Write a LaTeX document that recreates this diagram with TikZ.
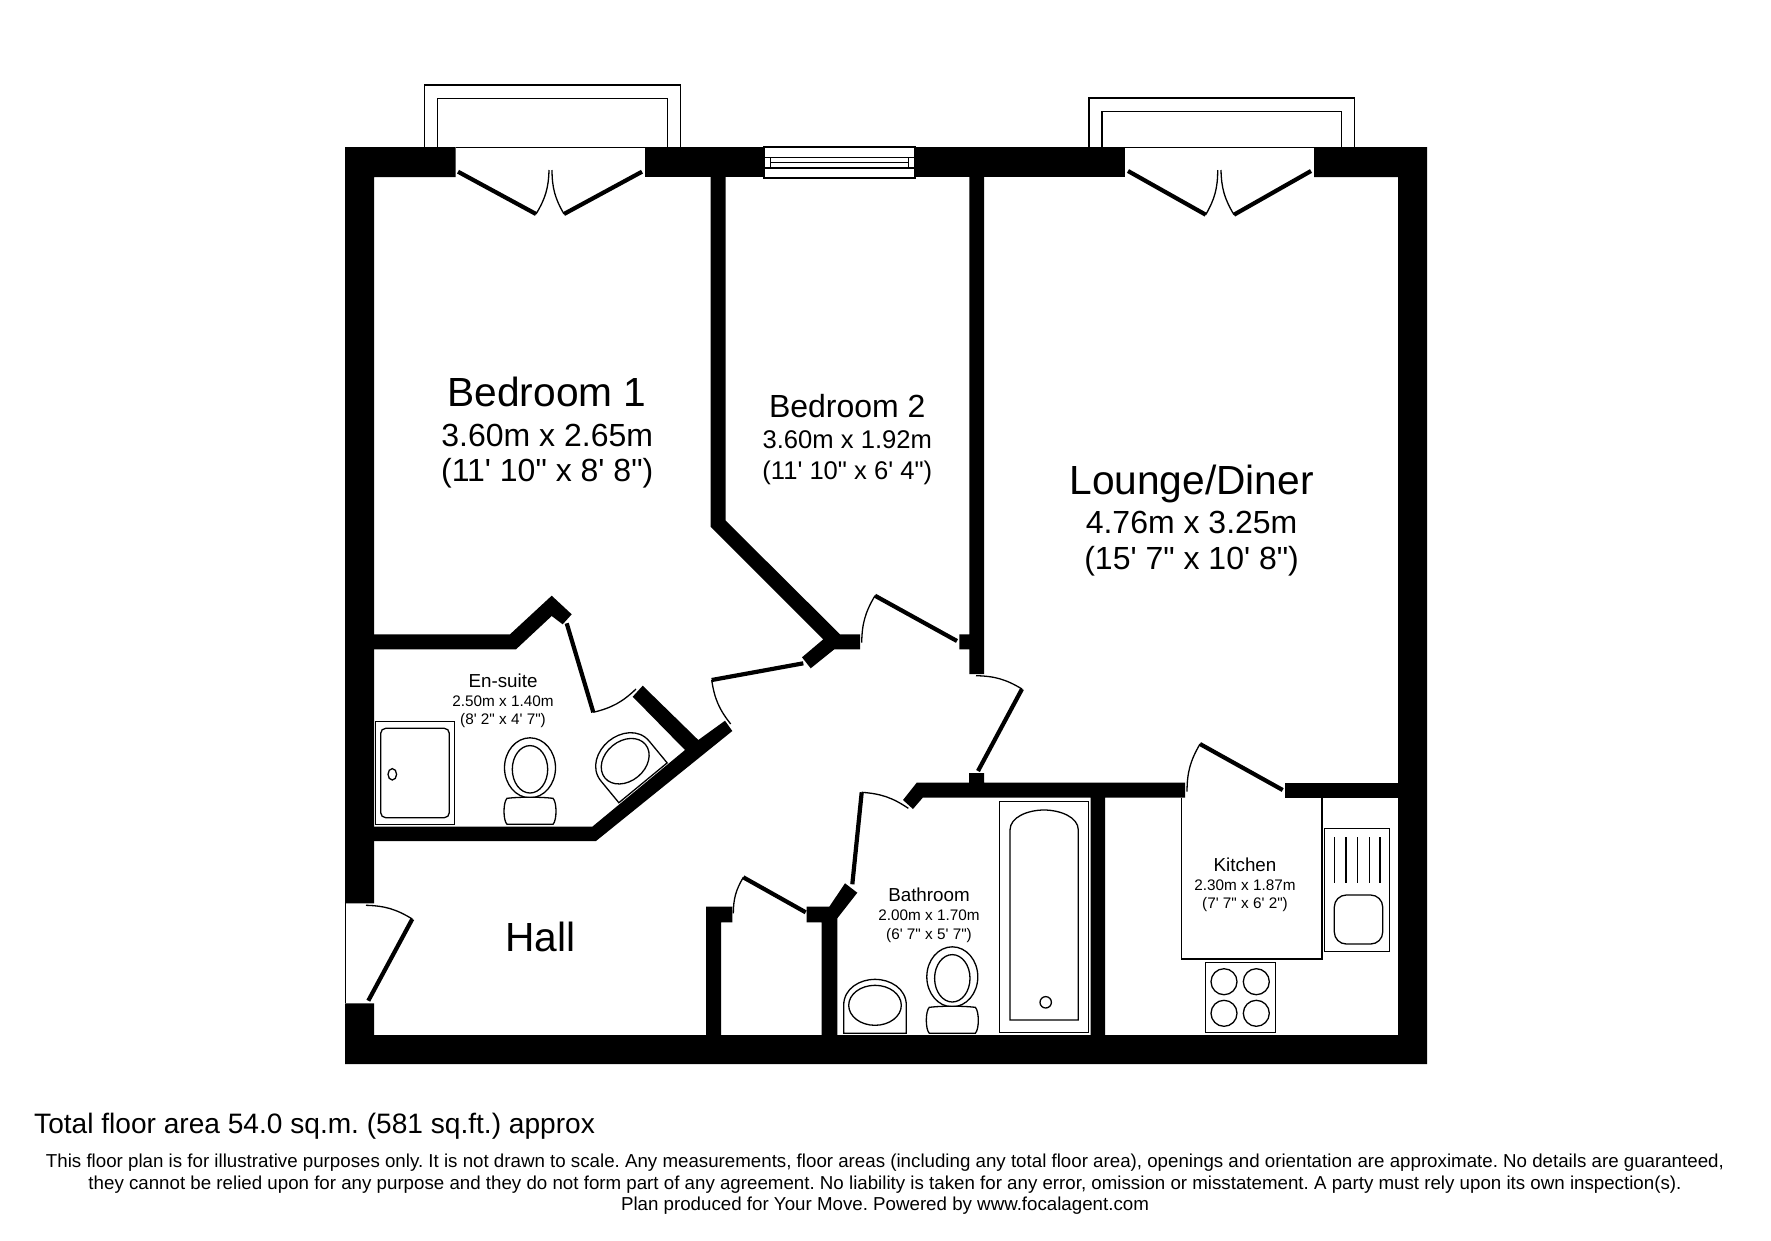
\documentclass[tikz,border=0pt]{standalone}
\usepackage{fontspec}
\newfontfamily\planfont{Liberation Sans}
\frenchspacing
\tikzset{
    wall/.style={fill=black, draw=none},
    thinline/.style={draw=black, line width=1.2pt},
    fitting/.style={draw=black, line width=1.3pt, fill=white},
    leaf/.style={draw=black, line width=4.2pt},
    swing/.style={draw=black, line width=1.3pt},
    bigroom/.style={anchor=base, inner sep=0pt, font=\planfont\fontsize{40.7}{48}\selectfont},
    bigdims/.style={anchor=base, inner sep=0pt, font=\planfont\fontsize{32}{38}\selectfont},
    midroom/.style={anchor=base, inner sep=0pt, font=\planfont\fontsize{32}{38}\selectfont},
    middims/.style={anchor=base, inner sep=0pt, font=\planfont\fontsize{25.6}{30}\selectfont},
    smallroom/.style={anchor=base, inner sep=0pt, font=\planfont\fontsize{18.8}{22}\selectfont},
    smalldims/.style={anchor=base, inner sep=0pt, font=\planfont\fontsize{15.3}{18}\selectfont},
    noteline/.style={anchor=base, inner sep=0pt, font=\planfont\fontsize{18.72}{22}\selectfont},
    toilet/.pic={
        \draw[fitting] (0,-56.5) ellipse [x radius=25.5, y radius=30];
        \draw[fitting] (0,-55) ellipse [x radius=17.7, y radius=23.7];
        \draw[fitting] (-23,0) .. controls (-27,-4) and (-27,-22) .. (-23,-26)
            .. controls (-10,-27.5) and (10,-27.5) .. (23,-26)
            .. controls (27,-22) and (27,-4) .. (23,0) -- cycle;
    },
    basin/.pic={
        \draw[fitting] (-31.3,0) -- (-31.3,-28) .. controls (-31.3,-45) and (-15,-54) .. (0,-54)
            .. controls (15,-54) and (31.3,-45) .. (31.3,-28) -- (31.3,0) -- cycle;
        \draw[fitting] (0,-28) ellipse [x radius=26.3, y radius=20];
    },
}

\begin{document}
\begin{tikzpicture}[x=1pt, y=-1pt]
    \useasboundingbox (0,0) rectangle (1771,1240);
    % Balconies
    \draw[thinline] (424.6,147) -- (424.6,85) -- (680.5,85) -- (680.5,147);
    \draw[thinline] (437.6,147) -- (437.6,98.7) -- (667.4,98.7) -- (667.4,147);
    \draw[thinline] (1089,147) -- (1089,98) -- (1354.7,98) -- (1354.7,147);
    \draw[thinline] (1102,147) -- (1102,111.3) -- (1341.7,111.3) -- (1341.7,147);
    \draw[thinline] (455.7,147.7) -- (645,147.7);
    \draw[thinline] (1125,147.7) -- (1314,147.7);
    % Outer walls
    \fill[wall] (345,147) -- (455.7,147) -- (455.7,177) -- (374,177) -- (374,903.3) -- (345,903.3) -- cycle;
    \fill[wall] (645,147) -- (764,147) -- (764,177) -- (645,177) -- cycle;
    \fill[wall] (915,147) -- (1125,147) -- (1125,177) -- (915,177) -- cycle;
    \fill[wall] (1314,147) -- (1427,147) -- (1427,1064) -- (345,1064) -- (345,1003.3) -- (374,1003.3)
        -- (374,1035) -- (1398,1035) -- (1398,177) -- (1314,177) -- cycle;
    \draw[thinline] (345.7,903.3) -- (345.7,1003.3);
    % Inner walls
    \fill[wall] (710.7,177) -- (725.7,177) -- (725.7,520.7) -- (840,634.3) -- (860,634.3) -- (860,649.3)
        -- (834.3,649.3) -- (810.7,668.3) -- (802,657.3) -- (823.3,639.3) -- (710.7,526.7) -- cycle;
    \fill[wall] (969.3,177) -- (984,177) -- (984,674) -- (969.3,674) -- (969.3,649.3) -- (959.3,649.3)
        -- (959.3,634.3) -- (969.3,634.3) -- cycle;
    \fill[wall] (374,634.3) -- (510,634.3) -- (551.7,595.7) -- (571.7,614.3) -- (562.7,624.3)
        -- (551.7,616) -- (516,649.3) -- (374,649.3) -- cycle;
    \fill[wall] (374,826.7) -- (592.3,826.7) -- (685,750) -- (632.7,696.7) -- (642.7,685.7) -- (698.3,740)
        -- (725,720.7) -- (732.3,731) -- (596,841) -- (374,841) -- cycle;
    \fill[wall] (706,1035) -- (706,906.7) -- (732.3,906.7) -- (732.3,922.3) -- (721,922.3) -- (721,1035) -- cycle;
    \fill[wall] (821.7,1035) -- (821.7,922.3) -- (806.7,922.3) -- (806.7,906.7) -- (829.3,906.7) -- (845,883.3)
        -- (857.3,892.7) -- (837.3,918.3) -- (837.3,1035) -- cycle;
    \fill[wall] (916.7,782.7) -- (969,782.7) -- (969,773) -- (984,773) -- (984,782.7) -- (1185,782.7)
        -- (1185,797.7) -- (1105,797.7) -- (1105,1035) -- (1090.7,1035) -- (1090.7,797.7) -- (922.7,797.7)
        -- (913,809) -- (903,800) -- cycle;
    \fill[wall] (1285,782.7) -- (1398,782.7) -- (1398,797.7) -- (1285,797.7) -- cycle;
    % Window
    \draw[fitting] (764,147) rectangle (915,178);
    \draw[thinline] (764,157.7) -- (915,157.7);
    \draw[thinline] (764,168) -- (915,168);
    \draw[thinline] (770.5,157.7) -- (770.5,168);
    \draw[thinline] (908.6,157.7) -- (908.6,168);
    \draw[thinline] (770.5,162.5) -- (908.6,162.5);
    % Doors
    \draw[leaf] (458,171.7) -- (536,214);
    \draw[swing] (536,214) to[bend right=15] (549,170);
    \draw[leaf] (642,171.7) -- (564,214);
    \draw[swing] (564,214) to[bend left=15] (552,170);
    \draw[leaf] (1128,171) -- (1205.7,214.7);
    \draw[swing] (1205.7,214.7) to[bend right=15] (1217.7,170);
    \draw[leaf] (1311,171) -- (1234,214.7);
    \draw[swing] (1234,214.7) to[bend left=15] (1221,170);
    \draw[leaf] (957,641) -- (875,595.7);
    \draw[swing] (875,595.7) to[bend right=15] (861.7,642.7);
    \draw[leaf] (1022,689) -- (978,771);
    \draw[swing] (1022,689) to[bend right=15] (976,675.7);
    \draw[leaf] (803.3,663.3) -- (711.7,680);
    \draw[swing] (711.7,680) to[bend right=15] (730.7,724);
    \draw[leaf] (566.7,623.3) -- (593.3,712.3);
    \draw[swing] (593.3,712.3) to[bend right=15] (636,689);
    \draw[leaf] (1282.7,790) -- (1200,744);
    \draw[swing] (1200,744) to[bend right=15] (1187,791.7);
    \draw[leaf] (852.3,884.3) -- (861.7,792.3);
    \draw[swing] (861.7,792.3) to[bend left=15] (908.3,808.3);
    \draw[leaf] (805.7,912.3) -- (743.3,877.3);
    \draw[swing] (743.3,877.3) to[bend right=15] (733.3,913.3);
    \draw[leaf] (368.3,1000.7) -- (412.3,919);
    \draw[swing] (412.3,919) to[bend right=15] (366,905.3);
    % En-suite fittings
    \draw[fitting] (375.3,721.7) rectangle (454.3,824.3);
    \draw[fitting, rounded corners=5pt] (380.7,728.3) rectangle (449.3,817.7);
    \draw[fitting] (392.3,774.3) ellipse [x radius=4.3, y radius=5.7];
    \pic (ensuitetoilet) at (530,824.3) {toilet};
    \pic[rotate=39.5] (ensuitebasin) at (643,782.8) {basin};
    % Bathroom fittings
    \draw[fitting] (999.3,801.7) rectangle (1088.3,1032.3);
    \draw[fitting] (1010,1020) -- (1010,830) .. controls (1010,817) and (1028,810) .. (1044,810)
        .. controls (1060,810) and (1078.3,817) .. (1078.3,830) -- (1078.3,1020) -- cycle;
    \draw[fitting] (1045.7,1002.3) circle (5.7);
    \pic (bathtoilet) at (952.3,1033.3) {toilet};
    \pic (bathbasin) at (875,1033.3) {basin};
    % Kitchen fittings
    \draw[thinline] (1181.7,797.7) -- (1181.7,959) -- (1322,959) -- (1322,797.7);
    \draw[fitting] (1324.7,828.3) rectangle (1389.7,951.7);
    \foreach \x in {1334.3,1346,1357.7,1369.3,1380}{
        \draw[thinline] (\x,837.3) -- (\x,882.7);
    }
    \draw[fitting, rounded corners=12pt] (1334.3,895) rectangle (1382.7,944);
    \draw[fitting] (1205.3,962.7) rectangle (1275.3,1032.7);
    \foreach \x in {1224,1256.3}{
        \foreach \y in {981.7,1013.3}{
            \draw[fitting] (\x,\y) circle (13);
        }
    }
    % Room labels
    \node[bigroom] (bedone) at (547,406.6) {Bedroom 1};
    \node[bigdims] (bedonem) at (547.2,446) {3.60m x 2.65m};
    \node[bigdims] (bedoneft) at (547.2,481) {(11' 10" x 8' 8")};
    \node[midroom] (bedtwo) at (847.3,417) {Bedroom 2};
    \node[middims] (bedtwom) at (847.3,448) {3.60m x 1.92m};
    \node[middims] (bedtwoft) at (847.3,479) {(11' 10" x 6' 4")};
    \node[bigroom] (lounge) at (1191.6,494) {Lounge/Diner};
    \node[bigdims] (loungem) at (1191.6,533) {4.76m x 3.25m};
    \node[bigdims] (loungeft) at (1191.6,569) {(15' 7" x 10' 8")};
    \node[smallroom] (ensuite) at (503,687.3) {En-suite};
    \node[smalldims] (ensuitem) at (503,706.7) {2.50m x 1.40m};
    \node[smalldims] (ensuiteft) at (503,724.3) {(8' 2" x 4' 7")};
    \node[smallroom] (bathroom) at (929,901.7) {Bathroom};
    \node[smalldims] (bathroomm) at (929,920.7) {2.00m x 1.70m};
    \node[smalldims] (bathroomft) at (929,939.3) {(6' 7" x 5' 7")};
    \node[smallroom] (kitchen) at (1245,871) {Kitchen};
    \node[smalldims] (kitchenm) at (1245,890) {2.30m x 1.87m};
    \node[smalldims] (kitchenft) at (1245,908) {(7' 7" x 6' 2")};
    \node[bigroom] (hall) at (540.5,951.7) {Hall};
    % Footer
    \node[anchor=base west, inner sep=0pt, font=\planfont\fontsize{28.1}{34}\selectfont] (total) at (34,1133)
        {Total floor area 54.0 sq.m. (581 sq.ft.) approx};
    \node[noteline] (noteone) at (885,1167)
        {This floor plan is for illustrative purposes only. It is not drawn to scale. Any measurements, floor areas (including any total floor area), openings and orientation are approximate. No details are guaranteed,};
    \node[noteline] (notetwo) at (885,1189)
        {they cannot be relied upon for any purpose and they do not form part of any agreement. No liability is taken for any error, omission or misstatement. A party must rely upon its own inspection(s).};
    \node[noteline] (notethree) at (885,1210)
        {Plan produced for Your Move. Powered by www.focalagent.com};
\end{tikzpicture}
\end{document}
